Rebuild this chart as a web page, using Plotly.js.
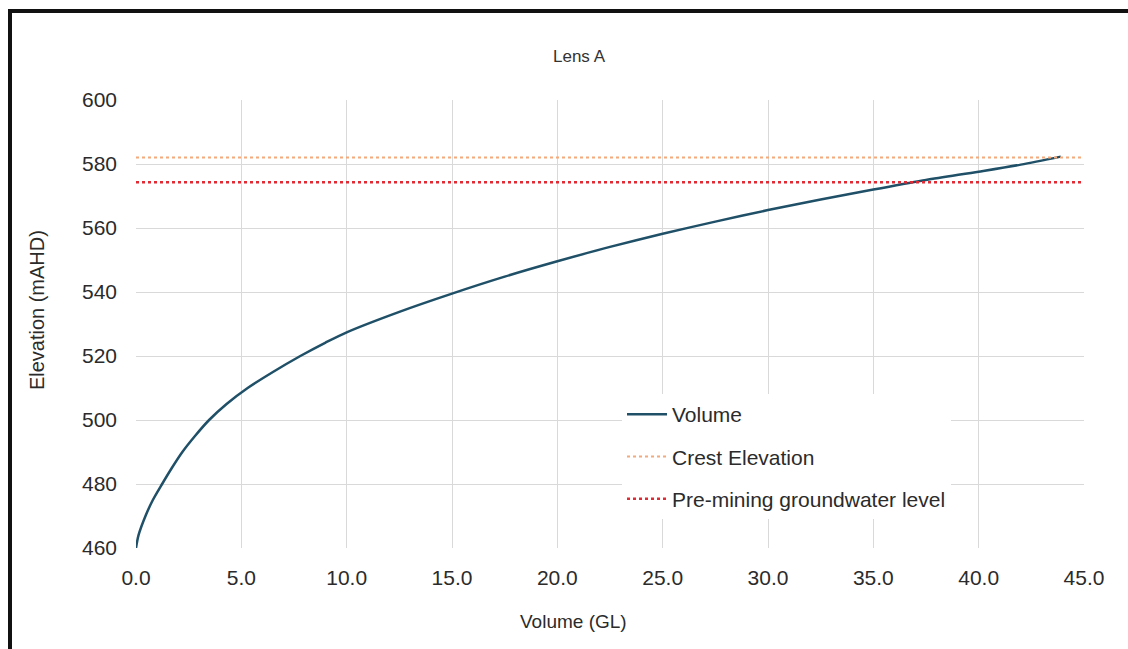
<!DOCTYPE html>
<html>
<head>
<meta charset="utf-8">
<script src="https://cdn.plot.ly/plotly-3.0.1.min.js"></script>
<style>
  html, body { margin: 0; padding: 0; background: #ffffff; }
  #chart { width: 1128px; height: 649px; }
  #frame { position: absolute; left: 8px; top: 9px; width: 1200px; height: 700px;
           border-left: 4px solid #111; border-top: 4px solid #111; pointer-events: none; }
</style>
</head>
<body>
<div id="chart"></div>
<div id="frame"></div>
<script>
// ---- data ----
const chartTitle = 'Lens A';
const xTitle = 'Volume (GL)';
const yTitle = 'Elevation (mAHD)';

const volumeGL = [0, 0.12, 0.45, 0.8, 1.24, 1.7, 2.2, 2.8, 3.47, 4.3, 5.3, 6.5, 7.8, 9, 10, 12.5, 15, 17.5, 20, 22.5, 25, 27.5, 30, 32.5, 35, 37.5, 40, 42, 43.9];
const elevation = [460, 464, 470, 475, 480, 485, 490, 495, 500, 505, 510, 515, 520, 524.2, 527.4, 533.8, 539.5, 544.8, 549.6, 554.1, 558.2, 562, 565.6, 568.9, 572, 575, 577.6, 579.8, 582.3];

const levelXRange = [0, 45];
const crestElevation = 582;
const preMiningLevel = 574.3;

const xTickVals = [0, 5, 10, 15, 20, 25, 30, 35, 40, 45];
const xTickText = ['0.0', '5.0', '10.0', '15.0', '20.0', '25.0', '30.0', '35.0', '40.0', '45.0'];
const yTickVals = [460, 480, 500, 520, 540, 560, 580, 600];

const seriesNames = ['Volume', 'Crest Elevation', 'Pre-mining groundwater level'];

// ---- chart ----
const FONT = 'Liberation Sans, Arial, sans-serif';
const TXT = '#2b2b2b';
const traces = [
  { x: volumeGL, y: elevation, mode: 'lines', name: seriesNames[0], legendgroup: 'a',
    line: { color: '#1f5068', width: 2.5, shape: 'spline', smoothing: 0.8 } },
  { x: levelXRange, y: levelXRange.map(() => crestElevation), mode: 'lines', name: seriesNames[1], legendgroup: 'b',
    line: { color: '#f3aa7c', width: 2, dash: 'dot' } },
  { x: levelXRange, y: levelXRange.map(() => preMiningLevel), mode: 'lines', name: seriesNames[2], legendgroup: 'c',
    line: { color: '#e02b35', width: 2.5, dash: 'dot' } }
];

const layout = {
  width: 1128, height: 649,
  paper_bgcolor: '#ffffff', plot_bgcolor: '#ffffff',
  margin: { l: 136, r: 44, t: 100, b: 101 },
  font: { family: FONT, color: TXT, size: 21 },
  title: { text: chartTitle, font: { family: FONT, size: 17, color: '#333333' },
           x: 579 / 1128, xanchor: 'center', y: 1 - 56 / 649, yanchor: 'middle', yref: 'container', xref: 'container' },
  xaxis: {
    range: [0, 45], tickvals: xTickVals, ticktext: xTickText,
    showgrid: true, gridcolor: '#d9d9d9', gridwidth: 1, zeroline: false, showline: false,
    ticks: '', ticklabelstandoff: 15, tickfont: { size: 21, color: TXT }, fixedrange: true
  },
  yaxis: {
    range: [460, 600], tickvals: yTickVals,
    showgrid: true, gridcolor: '#d9d9d9', gridwidth: 1, zeroline: false, showline: false,
    ticks: '', ticklabelstandoff: 18, tickfont: { size: 21, color: TXT }, fixedrange: true
  },
  showlegend: true,
  legend: {
    x: (622 - 136) / 948, xanchor: 'left', y: (548.3 - 394) / 448.8, yanchor: 'top',
    bgcolor: '#ffffff', borderwidth: 0, font: { size: 21, color: TXT },
    traceorder: 'grouped', tracegroupgap: 12, itemwidth: 40
  },
  annotations: [
    { text: xTitle, xref: 'paper', yref: 'paper', x: (573 - 136) / 948, y: -(622 - 548.3) / 448.8,
      xanchor: 'center', yanchor: 'middle', showarrow: false, font: { size: 19, color: TXT } },
    { text: yTitle, xref: 'paper', yref: 'paper', x: -(136 - 37) / 948, y: (548.3 - 310) / 448.8,
      xanchor: 'center', yanchor: 'middle', textangle: -90, showarrow: false, font: { size: 20, color: TXT } }
  ]
};

Plotly.newPlot('chart', traces, layout, { displayModeBar: false, staticPlot: true });
</script>
</body>
</html>
